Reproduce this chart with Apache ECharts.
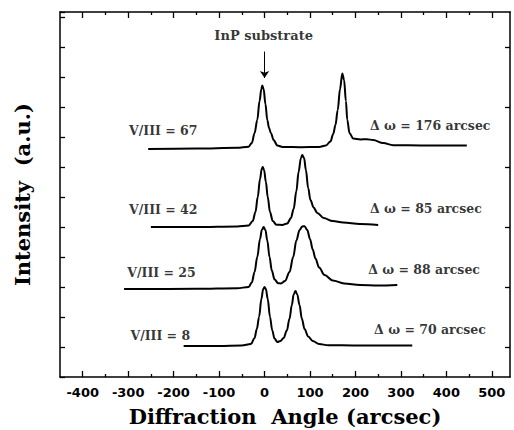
<!DOCTYPE html>
<html>
<head>
<meta charset="utf-8">
<script src="https://cdn.jsdelivr.net/npm/echarts@6/dist/echarts.min.js"></script>
<style>html,body{margin:0;padding:0;background:#fff}#c{width:514px;height:430px}</style>
</head>
<body>
<div id="c"></div>
<script>
// Diffraction angle (arcsec) vs. intensity (a.u., offset per curve)
const curve8 = [[-178,1.03],[-100,1.03],[-50,1.05],[-30,1.1],[-22,1.3],[-17,1.6],[-12,2.0],[-7,2.6],[-3,2.93],[0,3.0],[3,2.93],[7,2.6],[12,2.0],[17,1.55],[22,1.28],[28,1.17],[35,1.2],[42,1.3],[49,1.55],[55,1.95],[60,2.4],[64,2.75],[68,2.87],[72,2.75],[77,2.4],[82,1.95],[88,1.6],[96,1.35],[106,1.2],[120,1.1],[140,1.06],[200,1.05],[325,1.05]];
const curve25 = [[-309,2.93],[-150,2.94],[-60,2.96],[-35,3.0],[-28,3.15],[-22,3.5],[-16,4.0],[-10,4.6],[-6,4.9],[-2,5.0],[2,4.9],[6,4.55],[11,4.0],[16,3.55],[22,3.25],[30,3.13],[36,3.12],[45,3.2],[55,3.5],[63,4.0],[70,4.55],[77,4.9],[83,5.02],[88,5.03],[94,4.9],[100,4.6],[106,4.25],[112,3.95],[120,3.65],[132,3.4],[150,3.22],[175,3.12],[210,3.07],[250,3.05],[292,3.07]];
const curve42 = [[-250,5.0],[-150,5.0],[-60,5.02],[-35,5.05],[-26,5.2],[-20,5.5],[-15,6.0],[-10,6.6],[-6,6.95],[-4,7.0],[-1,6.9],[3,6.5],[7,6.0],[12,5.5],[18,5.2],[26,5.08],[39,5.07],[50,5.12],[58,5.3],[64,5.6],[70,6.2],[75,6.85],[80,7.3],[83,7.4],[87,7.3],[91,6.9],[96,6.3],[101,5.9],[108,5.65],[116,5.47],[130,5.3],[150,5.2],[173,5.15],[210,5.1],[250,5.07]];
const curve67 = [[-256,7.6],[-150,7.62],[-60,7.64],[-35,7.68],[-28,7.8],[-22,8.13],[-16,8.57],[-11,9.2],[-7,9.6],[-5,9.72],[-2,9.6],[2,9.1],[6,8.57],[10,8.3],[14,8.13],[20,7.9],[28,7.72],[40,7.67],[80,7.66],[120,7.67],[135,7.72],[145,7.85],[151,8.1],[156,8.4],[161,8.9],[166,9.6],[171,10.12],[175,9.9],[179,9.2],[182,8.57],[187,8.13],[195,7.95],[211,7.92],[225,7.93],[239,7.9],[261,7.8],[283,7.73],[350,7.72],[445,7.72]];

const xMajorTicks = [-400,-300,-200,-100,0,100,200,300,400,500];
const xMinorTicks = [-350,-250,-150,-50,50,150,250,350,450];
const yRightTicks = [1,3,5,7,9,11];

const ratioLabels = [[-298,8.23,'V/III = 67'],[-298,5.57,'V/III = 42'],[-302,3.5,'V/III = 25'],[-295,1.4,'V/III = 8']];
const widthLabels = [[232,8.4,'\u0394 \u03c9 = 176 arcsec'],[232,5.63,'\u0394 \u03c9 = 85 arcsec'],[228,3.6,'\u0394 \u03c9 = 88 arcsec'],[241,1.57,'\u0394 \u03c9 = 70 arcsec']];
const substrateLabel = [[-2,11.4,'InP substrate']];
const arrowFrom = [0,10.85], arrowTo = [0,9.97];

const XMIN = -450, XMAX = 540, YMIN = 0, YMAX = 12.17;
const serif = 'DejaVu Serif';
const sans = 'DejaVu Sans';
const lineCol = '#000';

function xAxisBase(pos, ticks, len, showLine){
  return {type:'value', min:XMIN, max:XMAX, position:pos,
    axisLine:{show:showLine, onZero:false, lineStyle:{color:lineCol,width:1.5}},
    axisTick:{show:true, inside:true, length:len, customValues:ticks, lineStyle:{color:lineCol,width:1.3}},
    axisLabel:{show:false}, splitLine:{show:false}};
}

const xBottom = xAxisBase('bottom', xMajorTicks, 6, true);
xBottom.axisLabel = {show:true, customValues:xMajorTicks, margin:9, color:'#000', fontFamily:sans, fontWeight:'bold', fontSize:13};
xBottom.name = 'Diffraction  Angle (arcsec)';
xBottom.nameLocation = 'middle';
xBottom.nameGap = 29;
xBottom.nameTextStyle = {fontFamily:serif, fontWeight:'bold', fontSize:21, color:'#000'};

const option = {
  animation:false,
  backgroundColor:'#fff',
  grid:{left:60, right:4, top:12, bottom:53, containLabel:false, outerBoundsMode:'none'},
  xAxis:[
    xBottom,
    xAxisBase('bottom', xMinorTicks, 3, false),
    xAxisBase('top', xMajorTicks, 6, true),
    xAxisBase('top', xMinorTicks, 3, false)
  ],
  yAxis:[
    {type:'value', min:YMIN, max:YMAX, interval:1, position:'left',
     axisLine:{show:true, onZero:false, lineStyle:{color:lineCol,width:1.5}},
     axisTick:{show:true, inside:true, length:5, lineStyle:{color:lineCol,width:1.3}},
     axisLabel:{show:false}, splitLine:{show:false},
     name:'Intensity  (a.u.)', nameLocation:'middle', nameGap:27,
     nameTextStyle:{fontFamily:serif, fontWeight:'bold', fontSize:21, color:'#000'}},
    {type:'value', min:YMIN, max:YMAX, position:'right',
     axisLine:{show:true, onZero:false, lineStyle:{color:lineCol,width:1.5}},
     axisTick:{show:true, inside:true, length:5, customValues:yRightTicks, lineStyle:{color:lineCol,width:1.3}},
     axisLabel:{show:false}, splitLine:{show:false}}
  ],
  series:[]
};

[curve8, curve25, curve42, curve67].forEach(function(d){
  option.series.push({type:'line', data:d, xAxisIndex:0, yAxisIndex:0, showSymbol:false, symbol:'none',
    smooth:0.35, smoothMonotone:'x', lineStyle:{color:lineCol, width:2}, silent:true});
});

function labelSeries(data, pos, size){
  return {type:'scatter', data:data, symbolSize:0, xAxisIndex:0, yAxisIndex:0, silent:true,
    label:{show:true, position:pos, distance:0, formatter:function(p){return p.value[2];},
      fontFamily:serif, fontWeight:'bold', fontSize:size, color:'#000'}};
}
option.series.push(labelSeries(ratioLabels, 'right', 12.5));
option.series.push(labelSeries(widthLabels, 'right', 12.5));
const sub = labelSeries(substrateLabel, 'inside', 13);
sub.markLine = {silent:true, symbol:['none','arrow'], symbolSize:7, label:{show:false},
  lineStyle:{color:lineCol, width:1, type:'solid'},
  data:[[{coord:arrowFrom},{coord:arrowTo}]]};
option.series.push(sub);

const chart = echarts.init(document.getElementById('c'), null, {renderer:'svg'});
chart.setOption(option);
</script>
</body>
</html>
